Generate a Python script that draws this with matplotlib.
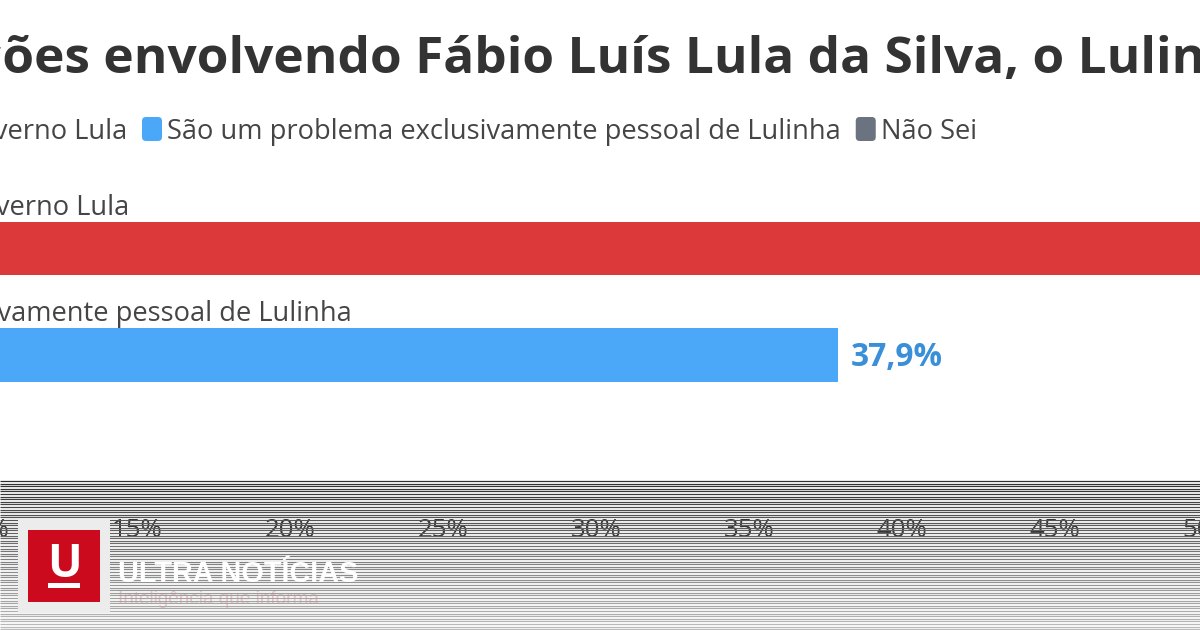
import matplotlib
matplotlib.use("Agg")
import matplotlib.pyplot as plt
from matplotlib.patches import Rectangle, FancyBboxPatch
import numpy as np

# ---------------- data ----------------
title = "Avaliações envolvendo Fábio Luís Lula da Silva, o Lulinha"
categories = ["Afetam diretamente o governo Lula",
              "São um problema exclusivamente pessoal de Lulinha",
              "Não Sei"]
values = [54.5, 37.9, 7.6]
value_labels = ["54,5%", "37,9%", "7,6%"]
xticks = [0, 5, 10, 15, 20, 25, 30, 35, 40, 45, 50, 55, 60]
xtick_labels = ["0%", "5%", "10%", "15%", "20%", "25%", "30%", "35%",
                "40%", "45%", "50%", "55%", "60%"]
brand_name = "ULTRA NOTÍCIAS"
brand_tagline = "Inteligência que informa"
brand_initial = "U"

# ---------------- styles ----------------
bar_colors = ["#DC3A3A", "#4BA8F9", "#6B7280"]
value_colors = ["#C93535", "#3A8FD9", "#5E6673"]
FONT = "Open Sans"
TEXT_DARK = "#333333"
TEXT_MID = "#454545"

W, H = 1200, 630
fig = plt.figure(figsize=(12, 6.3), dpi=100)
fig.patch.set_facecolor("white")
renderer = fig.canvas.get_renderer()


def text_width(s, size, **kw):
    t = fig.text(0, 0, s, fontsize=size, **kw)
    w = t.get_window_extent(renderer).width
    t.remove()
    return w


def fit_size(s, target_px, **kw):
    return 20 * target_px / text_width(s, 20, **kw)


def fx(px):
    return px / W


def fy(py):
    return 1 - py / H


# ---------------- main bar axes ----------------
PX_PER_UNIT = 30.6
X0_PX = -322
XMAX = 60
AX_TOP, AX_BOT = 195.25, 509.4
ax = fig.add_axes([fx(X0_PX), fy(AX_BOT), XMAX * PX_PER_UNIT / W, (AX_BOT - AX_TOP) / H])
ax.set_facecolor("none")
ypos = np.arange(len(categories))
ax.barh(ypos, values, height=0.5, color=bar_colors, zorder=2)
ax.set_xlim(0, XMAX)
ax.set_ylim(2.45, -0.5)
for s in ax.spines.values():
    s.set_visible(False)
ax.set_yticks([])
ax.set_xticks(xticks)
tick_size = fit_size("45%", 51, family=FONT)
ax.set_xticklabels(xtick_labels, fontsize=tick_size, family=FONT, color=TEXT_DARK)
ax.tick_params(axis="x", length=0, pad=6)

lab_size = fit_size(categories[1], 672, family=FONT)
val_size = fit_size("37,9%", 92, family=FONT, weight="bold")
for i, (cat, v, vl) in enumerate(zip(categories, values, value_labels)):
    ax.text(0, i - 0.315, cat, ha="left", va="baseline", fontsize=lab_size,
            family=FONT, color=TEXT_MID, clip_on=False)
    ax.annotate(vl, xy=(v, i + 0.108), xytext=(9.4, 0), textcoords="offset points",
                ha="left", va="baseline", fontsize=val_size, family=FONT,
                weight="bold", color=value_colors[i], annotation_clip=False)

# ---------------- overlay (pixel coordinates) ----------------
ov = fig.add_axes([0, 0, 1, 1], zorder=5)
ov.set_xlim(0, W)
ov.set_ylim(H, 0)
ov.axis("off")
ov.patch.set_visible(False)

# title
title_size = fit_size("ões envolvendo Fábio Luís Lula da Silva, o", 1063,
                      family=FONT, weight="bold")
prefix_w = text_width("Avaliaç", title_size, family=FONT, weight="bold")
ov.text(2 - prefix_w, 73, title, ha="left", va="baseline", fontsize=title_size,
        family=FONT, weight="bold", color=TEXT_DARK)

# legend
LEG_BASE = 139
SQ_W, SQ_H, SQ_TOP = 20, 24, 117
GAP_TXT, GAP_ITEM = 5, 15


def legend_square(x, color):
    ov.add_patch(FancyBboxPatch((x, SQ_TOP), SQ_W, SQ_H,
                                boxstyle="round,pad=0,rounding_size=4",
                                fc=color, ec="none", zorder=2))


# first item: text right-aligned ending at 127 px
w0 = text_width(categories[0], lab_size, family=FONT)
ov.text(127, LEG_BASE, categories[0], ha="right", va="baseline", fontsize=lab_size,
        family=FONT, color=TEXT_MID)
legend_square(127 - w0 - GAP_TXT - SQ_W, bar_colors[0])
x = 142
for cat, col in zip(categories[1:], bar_colors[1:]):
    legend_square(x, col)
    tx = x + SQ_W + GAP_TXT
    ov.text(tx, LEG_BASE, cat, ha="left", va="baseline", fontsize=lab_size,
            family=FONT, color=TEXT_MID)
    x = tx + text_width(cat, lab_size, family=FONT) + GAP_ITEM

# tagline (under the scanlines)
tag_size = fit_size(brand_tagline, 202, family="Liberation Sans")
ov.text(118, 604, brand_tagline, ha="left", va="baseline", fontsize=tag_size,
        family="Liberation Sans", color="#F2C6CC", zorder=2)

# scanline overlay
ys = np.arange(481, 631, 2.6)
grays = np.interp(ys, [481, 520, 560, 600, 630], [0.18, 0.33, 0.50, 0.64, 0.74])
ov.hlines(ys, 0, W, colors=[(g, g, g) for g in grays], linewidth=0.9, zorder=3)

# brand name (on top of scanlines)
brand_size = fit_size(brand_name, 240, family="Liberation Sans", weight="bold")
ov.text(118, 582, brand_name, ha="left", va="baseline", fontsize=brand_size,
        family="Liberation Sans", weight="bold", color="white", zorder=4)

# logo
ov.add_patch(Rectangle((18, 519), 92, 94, fc="#ECECEC", ec="none", zorder=4))
ov.add_patch(Rectangle((28, 530), 72, 72, fc="#CC0A1E", ec="none", zorder=5))
ov.text(64, 577, brand_initial, ha="center", va="baseline", fontsize=33,
        family=FONT, weight="bold", color="white", zorder=6)
ov.add_patch(Rectangle((48, 583), 32, 5, fc="white", ec="none", zorder=6))

fig.savefig("out.png", dpi=100)
